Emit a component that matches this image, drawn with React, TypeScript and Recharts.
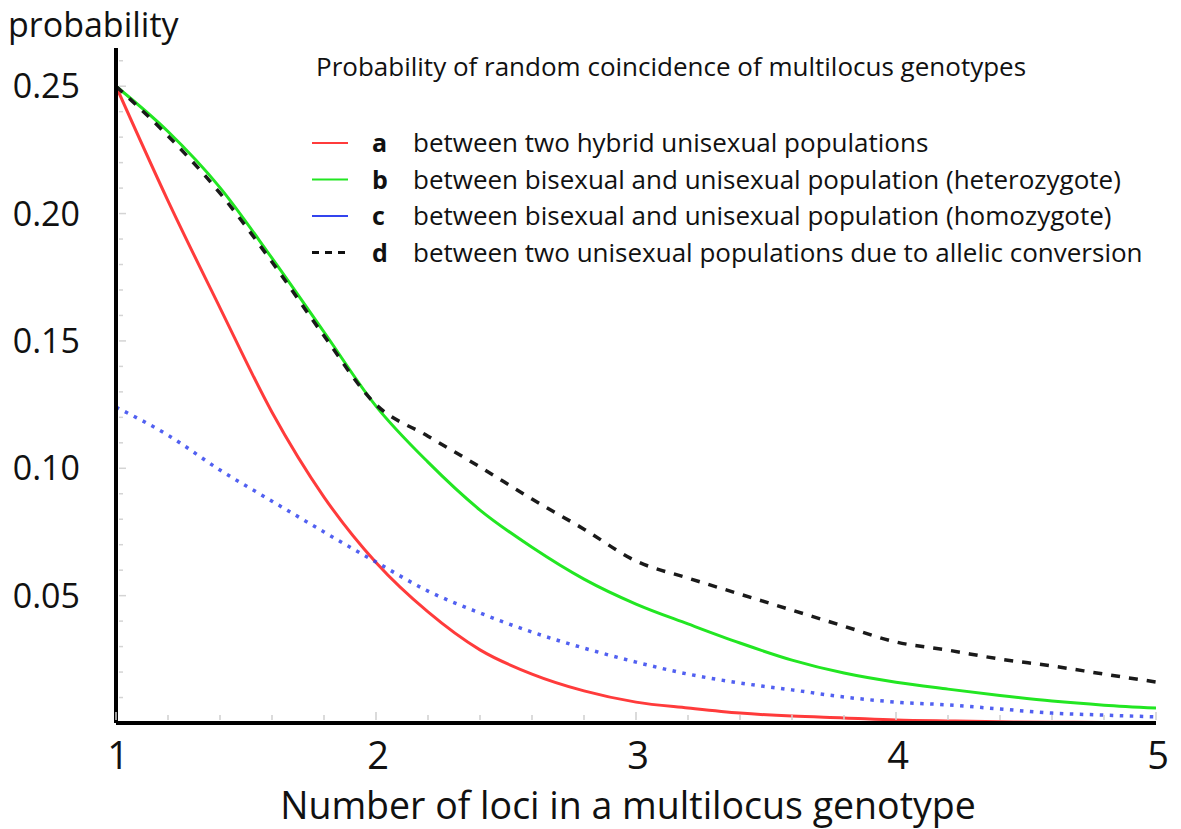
import { Line, LineChart, XAxis, YAxis } from "recharts";

// number of loci (x), read every 0.2
const LOCI = [1, 1.2, 1.4, 1.6, 1.8, 2, 2.2, 2.4, 2.6, 2.8, 3, 3.2, 3.4, 3.6, 3.8, 4, 4.2, 4.4, 4.6, 4.8, 5];

// a: between two hybrid unisexual populations
const A_HYBRID = [0.25, 0.205, 0.163, 0.122, 0.0887, 0.063, 0.0436, 0.0287, 0.0192, 0.0126, 0.0082, 0.0059, 0.0039, 0.0027, 0.002, 0.0012, 0.0008, 0.0005, 0.0003, 0.0002, 0.0001];
// b: bisexual vs unisexual (heterozygote)
const B_HETERO = [0.25, 0.2322, 0.2102, 0.1825, 0.1535, 0.1244, 0.1024, 0.0836, 0.069, 0.0565, 0.0467, 0.0389, 0.0314, 0.0247, 0.0196, 0.016, 0.0133, 0.0108, 0.0086, 0.007, 0.0059];
// c: bisexual vs unisexual (homozygote)
const C_HOMO = [0.124, 0.113, 0.0993, 0.0871, 0.075, 0.0632, 0.0518, 0.0432, 0.0357, 0.0294, 0.0239, 0.0192, 0.0157, 0.013, 0.0102, 0.0082, 0.0071, 0.0055, 0.0039, 0.0031, 0.0024];
// d: two unisexual populations, allelic conversion
const D_CONVERSION = [0.25, 0.2305, 0.208, 0.181, 0.152, 0.125, 0.1126, 0.1005, 0.0879, 0.0761, 0.0636, 0.0569, 0.0506, 0.0443, 0.038, 0.0318, 0.0286, 0.0251, 0.0224, 0.0192, 0.0161];

const X_LABELS = [1, 2, 3, 4, 5];
const X_MINOR = [1, 1.2, 1.4, 1.6, 1.8, 2, 2.2, 2.4, 2.6, 2.8, 3, 3.2, 3.4, 3.6, 3.8, 4, 4.2, 4.4, 4.6, 4.8, 5];
const Y_LABELS = [0.05, 0.1, 0.15, 0.2, 0.25];
const Y_MINOR = [0.01, 0.02, 0.03, 0.04, 0.05, 0.06, 0.07, 0.08, 0.09, 0.1, 0.11, 0.12, 0.13, 0.14, 0.15, 0.16, 0.17, 0.18, 0.19, 0.2, 0.21, 0.22, 0.23, 0.24, 0.25, 0.26];

const LEGEND = [
  { key: "a", text: "between two hybrid unisexual populations", color: "#ff3b3b", dash: undefined },
  { key: "b", text: "between bisexual and unisexual population (heterozygote)", color: "#22e622", dash: undefined },
  { key: "c", text: "between bisexual and unisexual population (homozygote)", color: "#3344ee", dash: undefined },
  { key: "d", text: "between two unisexual populations due to allelic conversion", color: "#111", dash: "7 6" },
];

const FONT = "'Open Sans', Lato, sans-serif";

const data = LOCI.map((n, i) => ({
  n,
  a: A_HYBRID[i],
  b: B_HETERO[i],
  c: C_HOMO[i],
  d: D_CONVERSION[i],
}));

function XTick({ x, y, payload }: any) {
  const major = X_LABELS.includes(payload.value);
  return (
    <g>
      <line x1={x} x2={x} y1={y - 3} y2={y - (major ? 11 : 8)} stroke="#cfcfcf" strokeWidth={1.5} />
      {major && (
        <text x={x + 2} y={y + 46} textAnchor="middle" fontSize={38} fill="#111" fontFamily={FONT}>
          {payload.value}
        </text>
      )}
    </g>
  );
}

function YTick({ x, y, payload }: any) {
  const major = Y_LABELS.includes(payload.value);
  return (
    <g>
      <line x1={x + 3} x2={x + (major ? 10 : 7)} y1={y} y2={y} stroke="#d4d4d4" strokeWidth={1.5} />
      {major && (
        <text x={80} y={y + 12} textAnchor="end" fontSize={34} fill="#111" fontFamily={FONT}>
          {payload.value.toFixed(2)}
        </text>
      )}
    </g>
  );
}

export default function App() {
  return (
    <div style={{ position: "absolute", left: 0, top: 0, width: 1181, height: 829, background: "#fff" }}>
      <LineChart width={1181} height={829} data={data} margin={{ top: 48, right: 25, left: 0, bottom: 0 }}>
        <XAxis
          dataKey="n"
          type="number"
          domain={[1, 5]}
          ticks={X_MINOR}
          interval={0}
          height={106}
          tickSize={0}
          tickMargin={0}
          tick={<XTick />}
          axisLine={{ stroke: "#000", strokeWidth: 4 }}
          allowDataOverflow
        />
        <YAxis
          type="number"
          domain={[0, 0.265]}
          ticks={Y_MINOR}
          interval={0}
          width={116}
          tickSize={0}
          tickMargin={0}
          tick={<YTick />}
          axisLine={{ stroke: "#000", strokeWidth: 4 }}
          allowDataOverflow
        />
        <Line dataKey="a" type="monotone" stroke="#ff3b3b" strokeWidth={3} dot={false} isAnimationActive={false} />
        <Line dataKey="c" type="monotone" stroke="#3344ee" strokeWidth={3.5} strokeDasharray="3.5 6.5" strokeOpacity={0.85} dot={false} isAnimationActive={false} />
        <Line dataKey="b" type="monotone" stroke="#22e622" strokeWidth={3} dot={false} isAnimationActive={false} />
        <Line dataKey="d" type="monotone" stroke="#1a1a1a" strokeWidth={3.5} strokeDasharray="9 9" dot={false} isAnimationActive={false} />
      </LineChart>

      <svg width={1181} height={829} style={{ position: "absolute", left: 0, top: 0, pointerEvents: "none" }} fontFamily={FONT} fill="#111">
        <text x={8} y={37} fontSize={34}>probability</text>
        <text x={316} y={76} fontSize={26}>Probability of random coincidence of multilocus genotypes</text>
        {LEGEND.map((item, i) => {
          const cy = 143 + i * 36.5;
          return (
            <g key={item.key}>
              <line
                x1={312}
                x2={348}
                y1={cy}
                y2={cy}
                stroke={item.color}
                strokeWidth={item.dash ? 3 : 2}
                strokeDasharray={item.dash}
              />
              <text x={372} y={cy + 9} fontSize={25} fontWeight="bold">{item.key}</text>
              <text x={413} y={cy + 9} fontSize={26}>{item.text}</text>
            </g>
          );
        })}
        <text x={628} y={819} fontSize={37.5} textAnchor="middle">Number of loci in a multilocus genotype</text>
      </svg>
    </div>
  );
}
